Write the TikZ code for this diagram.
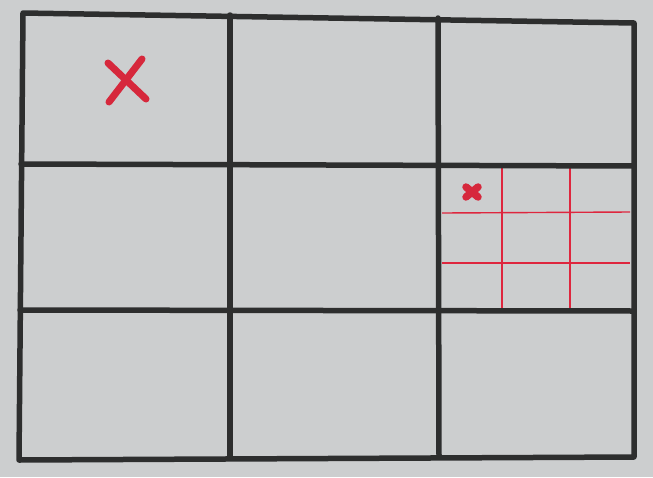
\documentclass[tikz,border=0pt]{standalone}
\begin{document}
\begin{tikzpicture}[x=1pt,y=-1pt,
  paper/.style={fill={rgb,255:red,204;green,206;blue,207}},
  ink/.style={draw={rgb,255:red,45;green,46;blue,46},line width=5.5pt,line cap=round,line join=round},
  redink/.style={draw={rgb,255:red,222;green,38;blue,62},line width=1.4pt},
  redmark/.style={draw={rgb,255:red,214;green,40;blue,60},line width=7pt,line cap=round}]
\useasboundingbox (0,0) rectangle (653,477);
\fill[paper] (0,0) rectangle (653,477);
% corners
\coordinate (tl) at (23,13);
\coordinate (tr) at (634,23);
\coordinate (br) at (634,457);
\coordinate (bl) at (19,460);
% red sub-grid
\draw[redink] (502,168) -- (502,308);
\draw[redink] (570,168) -- (570,308);
\draw[redink] (442,213) -- (630,212);
\draw[redink] (442,263) -- (630,263);
% black grid
\draw[ink] (tl) -- (tr) -- (br) -- (bl) -- cycle;
\draw[ink] (21,164) -- (634,166);
\draw[ink] (20,310) -- (634,311);
\draw[ink] (230,15) -- (230,457);
\draw[ink] (438,18) -- (439,457);
% red marks
\draw[redmark] (108,63) -- (146,99);
\draw[redmark] (142,59) -- (109,102);
\draw[redmark,line width=7.5pt] (466,187) -- (478,197);
\draw[redmark,line width=7.5pt] (478,187) -- (466,197);
\end{tikzpicture}
\end{document}
